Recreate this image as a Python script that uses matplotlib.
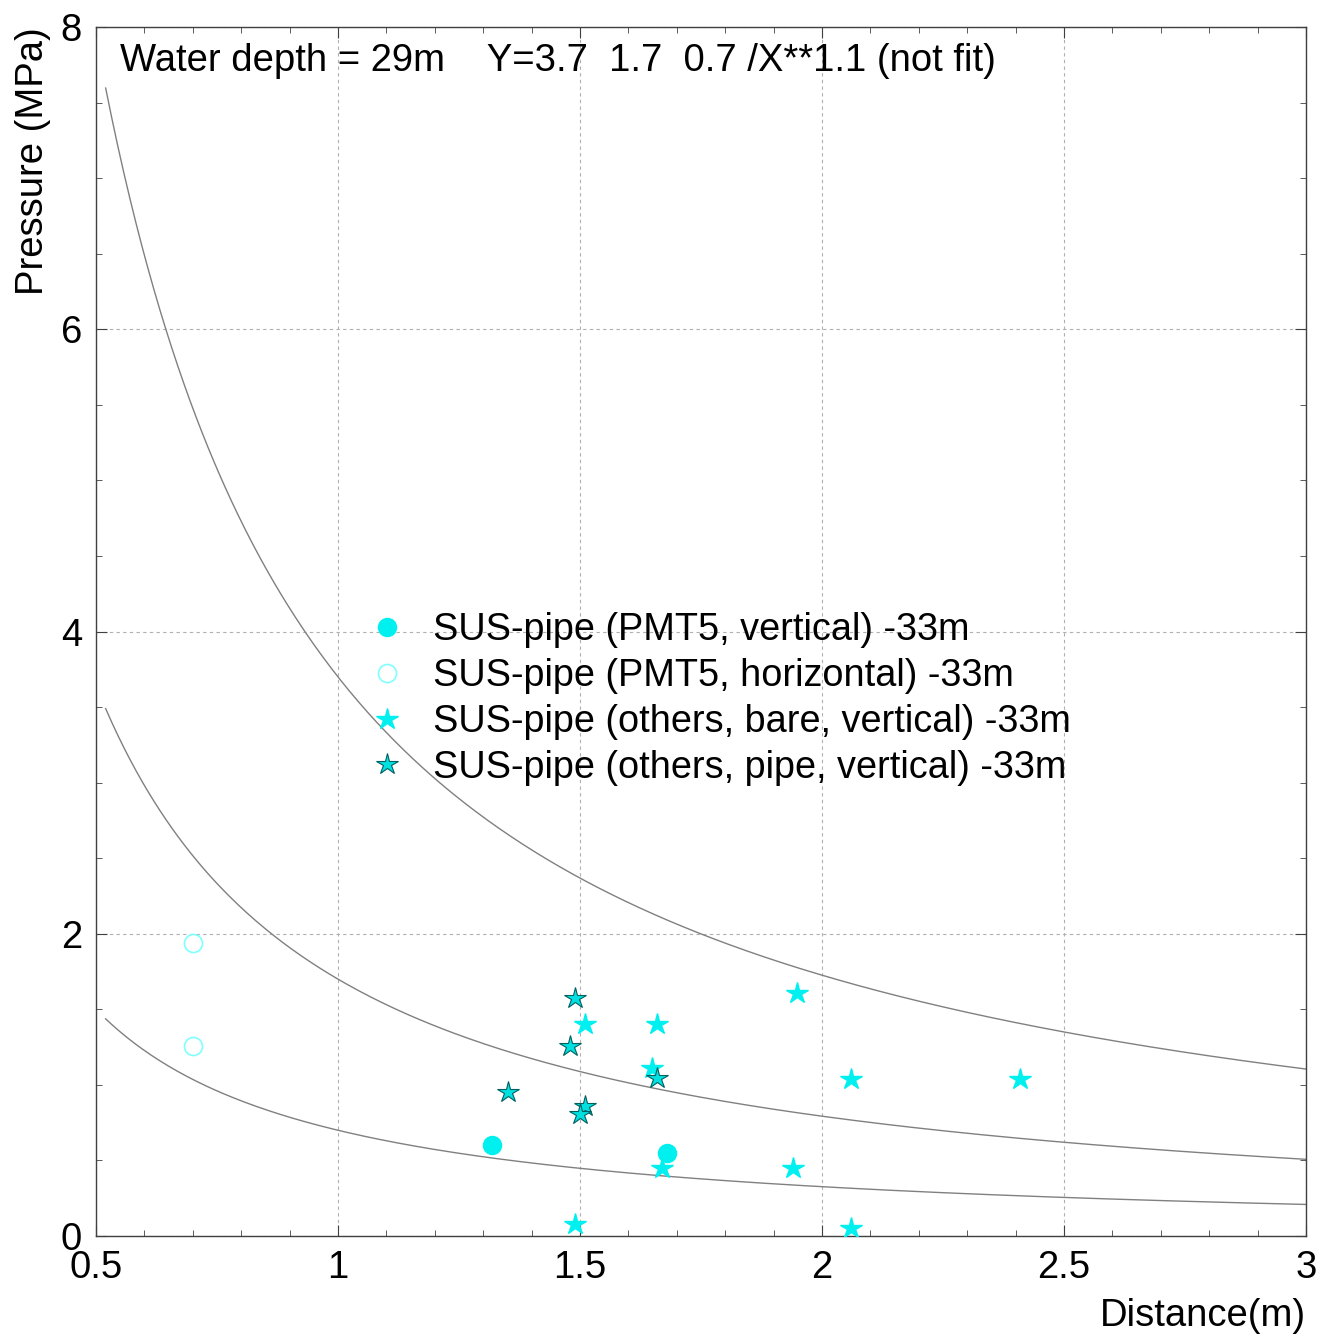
import numpy as np
import matplotlib
matplotlib.use("Agg")
from matplotlib import pyplot as plt
from matplotlib.ticker import MultipleLocator

plt.rcParams['font.family'] = ['Liberation Sans', 'DejaVu Sans']

# curve coefficients Y = a / X**1.1
coefs = [3.7, 1.7, 0.7]
power = 1.1

# SUS-pipe (PMT5, vertical)
pmt_v_x = [1.318, 1.68]
pmt_v_y = [0.60, 0.55]
# SUS-pipe (PMT5, horizontal)
pmt_h_x = [0.70, 0.70]
pmt_h_y = [1.94, 1.26]
# SUS-pipe (others, bare, vertical)
bare_x = [1.948, 1.51, 1.659, 1.649, 2.06, 2.409, 1.669, 1.94, 1.49, 2.06]
bare_y = [1.61, 1.40, 1.40, 1.11, 1.04, 1.04, 0.45, 0.45, 0.08, 0.05]
# SUS-pipe (others, pipe, vertical)
pipe_x = [1.49, 1.479, 1.351, 1.51, 1.50, 1.659]
pipe_y = [1.575, 1.26, 0.95, 0.86, 0.81, 1.045]

xticks = [0.5, 1, 1.5, 2, 2.5, 3]
xlabels = ['0.5', '1', '1.5', '2', '2.5', '3']
yticks = [0, 2, 4, 6, 8]
ylabels = ['0', '2', '4', '6', '8']

fig = plt.figure(figsize=(13.22, 13.38), dpi=100)
ax = fig.add_axes([0.0726, 0.0762, 0.9153, 0.9036])

xs = np.linspace(0.52, 3.0, 400)
for a in coefs:
    ax.plot(xs, a / xs**power, color='#808080', lw=1.0, zorder=2)

ax.plot(pmt_v_x, pmt_v_y, 'o', color='#00f0f0', ms=13, mec='#00f0f0', ls='none',
        label='SUS-pipe (PMT5, vertical) -33m', zorder=3)
ax.plot(pmt_h_x, pmt_h_y, 'o', mfc='none', mec='#80ffff', ms=13, mew=1.2, ls='none',
        label='SUS-pipe (PMT5, horizontal) -33m', zorder=3)
ax.plot(bare_x, bare_y, '*', color='#00f0f0', ms=16, mec='#00f0f0', ls='none',
        label='SUS-pipe (others, bare, vertical) -33m', zorder=3)
ax.plot(pipe_x, pipe_y, '*', mfc='#00e0e0', mec='#006060', mew=0.8, ms=16, ls='none',
        label='SUS-pipe (others, pipe, vertical) -33m', zorder=3)

ax.set_xlim(0.5, 3.0)
ax.set_ylim(0, 8)
ax.set_xticks(xticks)
ax.set_xticklabels(xlabels, fontsize=27.5)
ax.set_yticks(yticks)
ax.set_yticklabels(ylabels, fontsize=27.5)
ax.xaxis.set_minor_locator(MultipleLocator(0.1))
ax.yaxis.set_minor_locator(MultipleLocator(0.5))
ax.tick_params(which='both', direction='in', top=True, right=True, color='#404040')
ax.tick_params(which='major', length=8)
ax.tick_params(which='minor', length=4)
ax.tick_params(axis='x', pad=10)
ax.tick_params(axis='y', pad=10)
for s in ax.spines.values():
    s.set_color('#404040')
    s.set_linewidth(1.0)
ax.grid(True, which='major', ls=(0, (3, 3)), color='#b0b0b0', lw=0.8)

ax.text(0.02, 0.987, 'Water depth = 29m    Y=3.7  1.7  0.7 /X**1.1 (not fit)',
        transform=ax.transAxes, fontsize=27.5, va='top', ha='left')

fig.text(0.988, 0.003, 'Distance(m)', fontsize=27.5, ha='right', va='bottom')
fig.text(0.011, 0.98, 'Pressure (MPa)', fontsize=27.5, rotation=90, ha='left', va='top')

ax.legend(loc='upper left', bbox_to_anchor=(0.225, 0.516), frameon=False,
          fontsize=27.3, handlelength=1.0, handletextpad=0.72, labelspacing=0.26,
          borderpad=0, borderaxespad=0, numpoints=1)

fig.savefig('out.png', dpi=100)
